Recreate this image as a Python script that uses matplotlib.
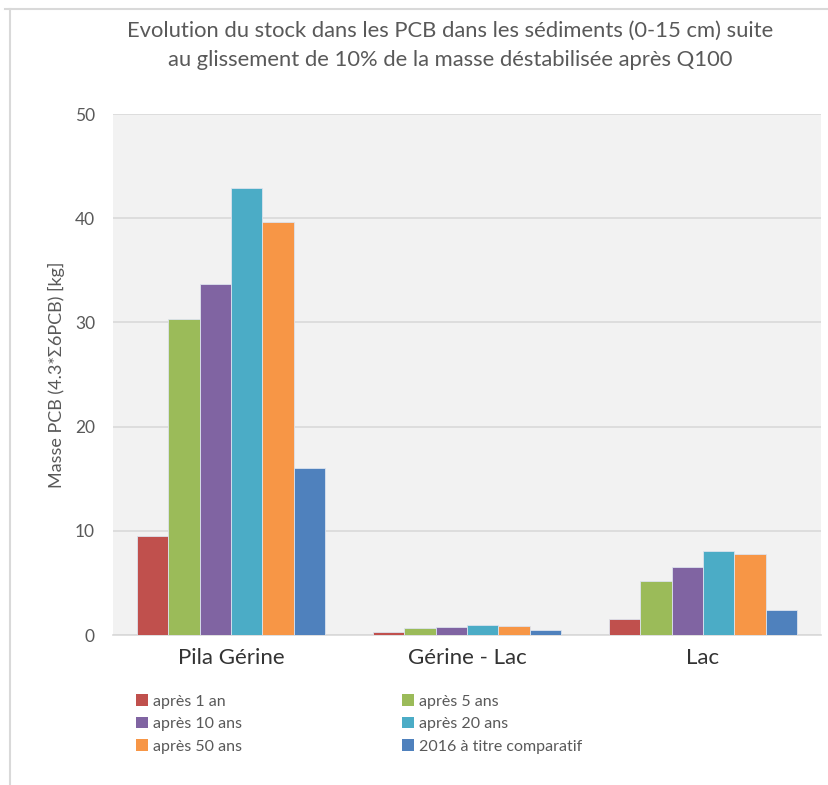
import numpy as np
import matplotlib.pyplot as plt
from matplotlib.patches import Patch
from matplotlib.lines import Line2D

plt.rcParams['font.family'] = ['Lato', 'DejaVu Sans']

categories = ['Pila Gérine', 'Gérine - Lac', 'Lac']
series = ['après 1 an', 'après 5 ans', 'après 10 ans', 'après 20 ans',
          'après 50 ans', '2016 à titre comparatif']
values = [
    [9.5, 0.26, 1.5],
    [30.3, 0.64, 5.2],
    [33.7, 0.74, 6.5],
    [42.9, 0.96, 8.1],
    [39.6, 0.86, 7.8],
    [16.0, 0.45, 2.4],
]
colors = ['#C0504D', '#9BBB59', '#8064A2', '#4BACC6', '#F79646', '#4F81BD']
grey = '#595959'

fig = plt.figure(figsize=(8.29, 7.85), dpi=100)
W, H = 829, 785
ax = fig.add_axes([113 / W, 1 - 635 / H, (821 - 113) / W, (635 - 114) / H])
ax.set_facecolor('#F2F2F2')

x = np.arange(len(categories))
bw = 0.8 / len(series)
for i, (name, vals) in enumerate(zip(series, values)):
    ax.bar(x - 0.4 + bw * (i + 0.5), vals, width=bw, color=colors[i],
           edgecolor='#DCE3EE', linewidth=0.6, zorder=3, label=name)

ax.set_xlim(-0.5, 2.5)
ax.set_ylim(0, 50)
ax.set_yticks([0, 10, 20, 30, 40, 50])
ax.set_xticks(x)
ax.set_xticklabels(categories, fontsize=16, color='#333333')
ax.tick_params(axis='y', labelsize=12.5, colors=grey, length=0, pad=13)
ax.tick_params(axis='x', length=0, pad=9)
ax.yaxis.grid(True, color='#D9D9D9', linewidth=1.2, zorder=0)
for s in ['top', 'right', 'left']:
    ax.spines[s].set_visible(False)
ax.spines['bottom'].set_color('#D9D9D9')
ax.spines['bottom'].set_linewidth(1.2)

ax.set_ylabel('Masse PCB (4.3*Σ6PCB) [kg]', fontsize=13, color=grey, labelpad=7)

fig.text(450 / W, 1 - 31 / H, 'Evolution du stock dans les PCB dans les sédiments (0-15 cm) suite',
         ha='center', va='center', fontsize=15.8, color=grey)
fig.text(450 / W, 1 - 60 / H, 'au glissement de 10% de la masse déstabilisée après Q100',
         ha='center', va='center', fontsize=15.8, color=grey)

handles = [Patch(facecolor=c, edgecolor='none') for c in colors]
# row-major order to match two columns
order = [0, 2, 4, 1, 3, 5]
fig.legend([handles[k] for k in order], [series[k] for k in order],
           loc='upper left', bbox_to_anchor=(122 / W, 1 - 680 / H), ncol=2,
           frameon=False, fontsize=11.5, labelcolor=grey,
           handlelength=0.75, handleheight=0.75, handletextpad=0.3,
           columnspacing=10.0, labelspacing=0.5)

# outer chart border
fig.add_artist(Line2D([10 / W, 10 / W], [0, 1 - 9 / H], color='#D9D9D9', lw=1.5))
fig.add_artist(Line2D([5 / W, 1], [1 - 9 / H, 1 - 9 / H], color='#D9D9D9', lw=1.5))

fig.savefig('out.png', dpi=100)
